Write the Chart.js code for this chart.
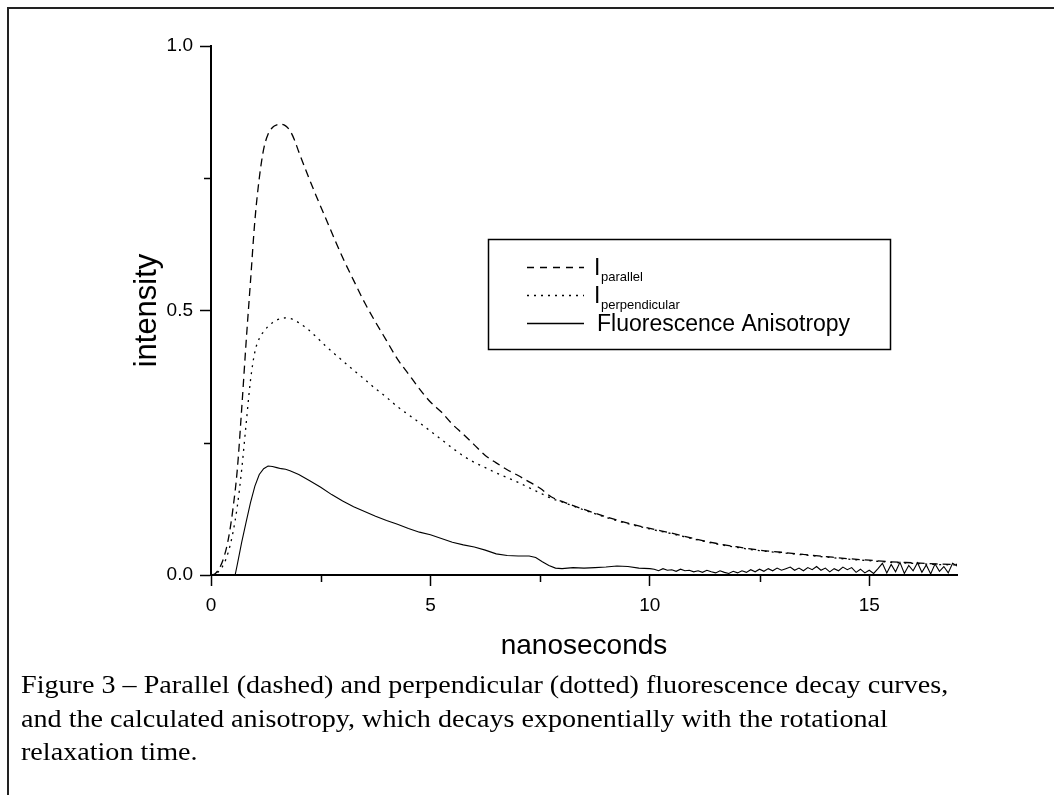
<!DOCTYPE html>
<html>
<head>
<meta charset="utf-8">
<title>Fluorescence anisotropy decay</title>
<script src="https://cdn.jsdelivr.net/npm/chart.js@4.4.1/dist/chart.umd.min.js"></script>
<style>
  html, body { margin: 0; padding: 0; background: #fff; }
  #wrap { position: relative; width: 1054px; height: 795px; overflow: hidden; }
  #frame { position: absolute; left: 7px; top: 7px; width: 1100px; height: 900px;
           border-top: 2px solid #222; border-left: 2px solid #222; }
  #chart { position: absolute; left: 0; top: 0; }
  #caption { position: absolute; left: 21px; top: 668px; color: #000; white-space: nowrap;
             font-family: "Liberation Serif", "Times New Roman", serif; font-size: 26px; line-height: 33.5px;
             transform: scaleX(1.082); transform-origin: 0 0; }
</style>
</head>
<body>
<div id="wrap">
  <div id="frame"></div>
  <canvas id="chart" width="1054" height="795"></canvas>
  <div id="caption">
    Figure 3 – Parallel (dashed) and perpendicular (dotted) fluorescence decay curves,<br>
    and the calculated anisotropy, which decays exponentially with the rotational<br>
    relaxation time.
  </div>
</div>
<script>
// time axis (ns) for the two polarised decay curves
const timeNs = [0, 0.1, 0.2, 0.3, 0.4, 0.5, 0.6, 0.7, 0.8, 0.9,
  1.0, 1.1, 1.2, 1.3, 1.4, 1.5, 1.6, 1.7, 1.8, 1.9,
  2.0, 2.2, 2.4, 2.6, 2.8, 3.0, 3.25, 3.5, 3.75, 4.0,
  4.25, 4.5, 4.75, 5.0, 5.25, 5.5, 5.75, 6.0, 6.25, 6.5,
  6.75, 7.0, 7.25, 7.5, 7.75, 8.0, 8.5, 9.0, 9.5, 10.0,
  10.5, 11.0, 11.5, 12.0, 12.5, 13.0, 13.5, 14.0, 14.5, 15.0,
  15.5, 16.0, 16.5, 17.0];

const parallelValues = [0, 0.003, 0.014, 0.035, 0.07, 0.125, 0.2, 0.315, 0.44, 0.555,
  0.67, 0.75, 0.805, 0.833, 0.846, 0.851, 0.852, 0.849, 0.84, 0.823,
  0.80, 0.757, 0.716, 0.677, 0.638, 0.60, 0.557, 0.515, 0.478, 0.443,
  0.408, 0.38, 0.352, 0.327, 0.308, 0.285, 0.266, 0.246, 0.226, 0.212,
  0.199, 0.188, 0.176, 0.164, 0.148, 0.139, 0.124, 0.11, 0.098, 0.088,
  0.079, 0.069, 0.060, 0.053, 0.047, 0.043, 0.039, 0.035, 0.031, 0.028,
  0.025, 0.023, 0.021, 0.02];

const perpendicularValues = [0, 0.002, 0.009, 0.022, 0.045, 0.08, 0.13, 0.2, 0.285, 0.368,
  0.422, 0.447, 0.46, 0.47, 0.477, 0.482, 0.485, 0.486, 0.485, 0.482,
  0.477, 0.465, 0.45, 0.434, 0.419, 0.405, 0.387, 0.37, 0.352, 0.336,
  0.318, 0.303, 0.288, 0.272, 0.256, 0.24, 0.225, 0.213, 0.203, 0.193,
  0.184, 0.175, 0.165, 0.155, 0.145, 0.138, 0.123, 0.109, 0.097, 0.087,
  0.078, 0.068, 0.059, 0.052, 0.046, 0.042, 0.038, 0.034, 0.03, 0.027,
  0.024, 0.022, 0.02, 0.019];

// anisotropy has its own time points (starts later, noisy tail)
const anisoTime = [0.55, 0.6, 0.7, 0.8, 0.9, 1.0, 1.1, 1.2, 1.3, 1.4,
  1.5, 1.6, 1.7, 1.8, 2.0, 2.25, 2.5, 2.75, 3.0, 3.25,
  3.5, 3.75, 4.0, 4.25, 4.5, 4.75, 5.0, 5.25, 5.5, 5.75,
  6.0, 6.25, 6.5, 6.75, 7.0, 7.25, 7.4, 7.55, 7.7, 7.85,
  8.0, 8.25, 8.5, 8.75, 9.0, 9.25, 9.5, 9.75, 10.0,
  10.1, 10.2, 10.3, 10.4, 10.5, 10.6, 10.7, 10.8, 10.9, 11.0,
  11.1, 11.2, 11.3, 11.4, 11.5, 11.6, 11.7, 11.8, 11.9, 12.0,
  12.1, 12.2, 12.3, 12.4, 12.5, 12.6, 12.7, 12.8, 12.9, 13.0,
  13.1, 13.2, 13.3, 13.4, 13.5, 13.6, 13.7, 13.8, 13.9, 14.0,
  14.1, 14.2, 14.3, 14.4, 14.5, 14.6, 14.7, 14.8, 14.9, 15.0,
  15.1, 15.2, 15.3, 15.4, 15.5, 15.6, 15.7, 15.8, 15.9, 16.0,
  16.1, 16.2, 16.3, 16.4, 16.5, 16.6, 16.7, 16.8, 16.9, 17.0];

const anisoValues = [0, 0.02, 0.062, 0.1, 0.137, 0.168, 0.19, 0.201, 0.206, 0.205,
  0.203, 0.201, 0.2, 0.197, 0.19, 0.178, 0.166, 0.152, 0.14, 0.129,
  0.12, 0.111, 0.103, 0.096, 0.088, 0.081, 0.076, 0.069, 0.062, 0.057,
  0.053, 0.047, 0.04, 0.037, 0.036, 0.036, 0.033, 0.025, 0.018, 0.013,
  0.012, 0.014, 0.013, 0.014, 0.015, 0.017, 0.016, 0.013, 0.012,
  0.011, 0.008, 0.012, 0.009, 0.01, 0.007, 0.011, 0.008, 0.009, 0.006,
  0.008, 0.005, 0.009, 0.006, 0.004, 0.008, 0.005, 0.003, 0.007, 0.004,
  0.008, 0.005, 0.01, 0.006, 0.011, 0.007, 0.012, 0.008, 0.013, 0.009,
  0.012, 0.015, 0.009, 0.013, 0.008, 0.014, 0.01, 0.016, 0.009, 0.013,
  0.006, 0.012, 0.008, 0.015, 0.01, 0.014, 0.005, 0.011, 0.004, 0.009,
  0.003, 0.012, 0.022, 0.004, 0.02, 0.006, 0.024, 0.003, 0.018, 0.008,
  0.023, 0.005, 0.019, 0.002, 0.021, 0.007, 0.016, 0.004, 0.022, 0.017];

const xTickValues = [0, 5, 10, 15];
const xMinorTicks = [2.5, 7.5, 12.5];
const yTickValues = [0, 0.5, 1.0];
const yMinorTicks = [0.25, 0.75];

const seriesNames = ['I|parallel', 'I|perpendicular', 'Fluorescence Anisotropy'];

function toPoints(xs, ys) {
  return xs.map((x, i) => ({ x: x, y: ys[i] }));
}

const FONT = '"Liberation Sans", Arial, sans-serif';

// short minor ticks, Chart.js only does one tick length
const minorTicks = {
  id: 'minorTicks',
  afterDraw(chart) {
    const ctx = chart.ctx;
    const xs = chart.scales.x, ys = chart.scales.y;
    ctx.save();
    ctx.strokeStyle = '#000';
    ctx.lineWidth = 1.5;
    ctx.beginPath();
    xMinorTicks.forEach(v => {
      const px = Math.round(xs.getPixelForValue(v)) + 0.5;
      ctx.moveTo(px, xs.top);
      ctx.lineTo(px, xs.top + 7);
    });
    yMinorTicks.forEach(v => {
      const py = Math.round(ys.getPixelForValue(v)) + 0.5;
      ctx.moveTo(ys.right, py);
      ctx.lineTo(ys.right - 7, py);
    });
    ctx.stroke();
    ctx.restore();
  }
};

// boxed legend with subscripts
const boxLegend = {
  id: 'boxLegend',
  afterDraw(chart) {
    const ctx = chart.ctx;
    const rowY = [267, 295, 323];
    ctx.save();
    ctx.fillStyle = '#fff';
    ctx.fillRect(488, 239, 403, 110);
    ctx.strokeStyle = '#000';
    ctx.lineWidth = 1.5;
    ctx.strokeRect(488.5, 239.5, 402, 110);

    chart.data.datasets.forEach((ds, i) => {
      const y = rowY[i];
      ctx.save();
      ctx.strokeStyle = '#000';
      ctx.lineWidth = 1.3;
      ctx.setLineDash(ds.legendDash || []);
      ctx.beginPath();
      ctx.moveTo(527, y + 0.5);
      ctx.lineTo(584, y + 0.5);
      ctx.stroke();
      ctx.restore();

      const parts = seriesNames[i].split('|');
      ctx.fillStyle = '#000';
      ctx.textBaseline = 'alphabetic';
      ctx.textAlign = 'left';
      if (parts.length === 2) {
        ctx.font = '23px ' + FONT;
        ctx.fillText(parts[0], 594, y + 8);
        ctx.font = '13px ' + FONT;
        ctx.fillText(parts[1], 601, y + 14);
      } else {
        ctx.font = '23px ' + FONT;
        ctx.fillText(parts[0], 597, y + 8);
      }
    });
    ctx.restore();
  }
};

const ctx = document.getElementById('chart').getContext('2d');

const chart = new Chart(ctx, {
  type: 'line',
  data: {
    datasets: [
      {
        label: 'I parallel',
        data: toPoints(timeNs, parallelValues),
        borderColor: '#000',
        borderWidth: 1.3,
        borderDash: [8, 5],
        legendDash: [7, 6],
        pointRadius: 0,
        fill: false,
        cubicInterpolationMode: 'monotone'
      },
      {
        label: 'I perpendicular',
        data: toPoints(timeNs, perpendicularValues),
        borderColor: '#000',
        borderWidth: 1.3,
        borderDash: [2, 5],
        legendDash: [2, 5],
        pointRadius: 0,
        fill: false,
        cubicInterpolationMode: 'monotone'
      },
      {
        label: 'Fluorescence Anisotropy',
        data: toPoints(anisoTime, anisoValues),
        borderColor: '#000',
        borderWidth: 1.1,
        pointRadius: 0,
        fill: false,
        tension: 0
      }
    ]
  },
  options: {
    responsive: false,
    devicePixelRatio: 1,
    animation: false,
    events: [],
    layout: {
      autoPadding: false,
      padding: { left: 129, top: 46, right: 97, bottom: 132 }
    },
    plugins: {
      legend: { display: false },
      tooltip: { enabled: false }
    },
    scales: {
      x: {
        type: 'linear',
        min: 0,
        max: 17,
        afterBuildTicks: s => { s.ticks = xTickValues.map(v => ({ value: v })); },
        afterFit: s => { s.height = 88; },
        grid: { drawOnChartArea: false, drawTicks: true, tickLength: 11, tickWidth: 1.5, tickColor: '#000' },
        border: { display: true, color: '#000', width: 2 },
        ticks: { color: '#000', padding: 8, maxRotation: 0, font: { family: FONT, size: 19 } },
        title: { display: true, text: 'nanoseconds', color: '#000', padding: 0, font: { family: FONT, size: 28 } }
      },
      y: {
        type: 'linear',
        min: 0,
        max: 1,
        afterBuildTicks: s => { s.ticks = yTickValues.map(v => ({ value: v })); },
        afterFit: s => { s.width = 82; },
        grid: { drawOnChartArea: false, drawTicks: true, tickLength: 11, tickWidth: 1.5, tickColor: '#000' },
        border: { display: true, color: '#000', width: 2 },
        ticks: { color: '#000', padding: 7, callback: v => Number(v).toFixed(1), font: { family: FONT, size: 19 } },
        title: { display: true, text: 'intensity', color: '#000', padding: 0, font: { family: FONT, size: 31 } }
      }
    }
  },
  plugins: [minorTicks, boxLegend]
});
</script>
</body>
</html>
